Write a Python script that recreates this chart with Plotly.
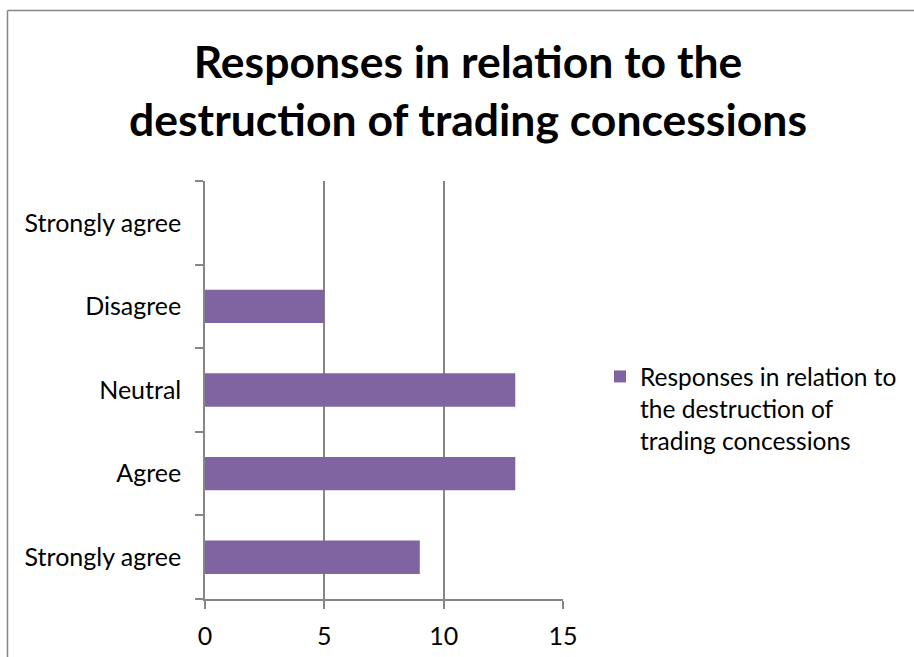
import plotly.graph_objects as go

# Survey responses (bottom to top as drawn on the category axis)
categories = ["Strongly agree", "Agree", "Neutral", "Disagree", "Strongly agree"]
responses = [9, 13, 13, 5, 0]
x_ticks = [0, 5, 10, 15]

title_text = "Responses in relation to the<br>destruction of trading concessions"
legend_text = "Responses in relation to<br>the destruction of<br>trading concessions"

positions = list(range(len(categories)))

BAR = "#8064A2"
GRID = "#868686"
FONT = "Lato"

W, H = 914, 657
L, R, T, B = 205, 351, 181, 58
pw, ph = W - L - R, H - T - B


def px_x(v):
    return (v - L) / pw


def px_y(v):
    return (H - B - v) / ph


fig = go.Figure(
    go.Bar(
        x=responses,
        y=positions,
        orientation="h",
        width=0.4,
        marker=dict(color=BAR, line=dict(width=0)),
        name=legend_text,
        showlegend=True,
    )
)

# outer chart frame (left and top edges fall inside the page)
frame = dict(type="line", xref="paper", yref="paper",
             line=dict(color=GRID, width=1.5), layer="above")
fig.add_shape(**frame, x0=px_x(7.5), x1=px_x(7.5), y0=px_y(10.5), y1=px_y(H + 5))
fig.add_shape(**frame, x0=px_x(7.5), x1=px_x(W + 5), y0=px_y(10.5), y1=px_y(10.5))

fig.update_layout(
    width=W, height=H,
    margin=dict(l=L, r=R, t=T, b=B, autoexpand=False),
    paper_bgcolor="white", plot_bgcolor="white",
    font=dict(family=FONT, color="black", size=25),
    title=dict(text="<b>" + title_text + "</b>", x=468 / W, xanchor="center",
               y=1 - 78 / H, yanchor="top",
               font=dict(family=FONT, size=44.5, color="black")),
    showlegend=True,
    legend=dict(x=px_x(600), xanchor="left", y=px_y(354), yanchor="top",
                valign="top", font=dict(size=24.5), bgcolor="rgba(0,0,0,0)"),
)

fig.update_xaxes(
    range=[0, 15], tickvals=x_ticks, showgrid=True, gridcolor=GRID, gridwidth=1.5,
    zeroline=False, showline=True, linecolor=GRID, linewidth=1.5,
    ticks="outside", ticklen=8, tickcolor=GRID, tickwidth=1.5,
    ticklabelstandoff=6,
)

fig.update_yaxes(
    range=[-0.5, 4.5], tickvals=positions, ticktext=categories,
    showgrid=False, zeroline=False, showline=True, linecolor=GRID, linewidth=1.5,
    ticks="outside", ticklen=17, tickcolor="rgba(0,0,0,0)",
    minor=dict(tickvals=[p - 0.5 for p in positions] + [positions[-1] + 0.5],
               ticks="outside", ticklen=8, tickcolor=GRID, tickwidth=1.5, showgrid=False),
)

fig.write_html("out.html")
